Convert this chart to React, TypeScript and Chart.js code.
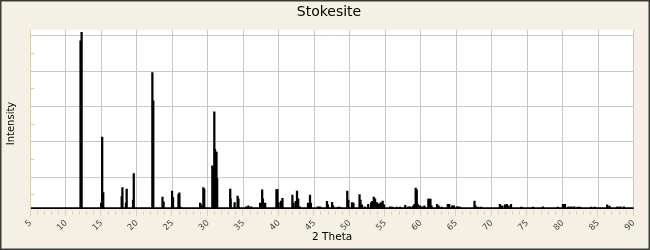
import React, { useEffect, useRef } from "react";
import { Chart, registerables } from "chart.js";

Chart.register(...registerables);

const TITLE = "Stokesite";
const X_TITLE = "2 Theta";
const Y_TITLE = "Intensity";

const X_MIN = 5;
const X_MAX = 90;
const X_STEP = 5;
const Y_MIN = 1.7;
const Y_MAX = 103.1;
const Y_GRID_STEP = 20;
const BASELINE = 2.1;

const peakTheta = [
  12.05, 12.2,
  14.95, 15.1, 15.25,
  17.85, 17.95, 18.45, 18.55, 19.45, 19.55,
  22.17, 22.3, 23.6, 23.75, 24.95, 25.08, 25.85, 25.98, 26.15,
  28.9, 29.0, 29.35, 29.48,
  30.62, 30.75, 30.9, 31.0, 31.13, 31.2, 31.3,
  33.14, 33.2, 33.76, 34.18, 34.3,
  35.4, 35.7, 36.1,
  37.35, 37.64, 37.75, 38.06,
  39.65, 39.8, 39.95, 40.3, 40.5,
  41.9, 42.05, 42.37, 42.55, 42.72, 42.95,
  44.1, 44.38, 44.5, 45.5, 45.8,
  46.77, 46.9, 47.5, 47.65, 48.3, 48.6,
  49.63, 49.78, 50.3, 50.5,
  51.36, 51.5, 51.7, 52.1,
  52.58, 53.0, 53.15, 53.37, 53.55, 53.8, 54.07, 54.35, 54.62, 54.8,
  55.7, 56.0, 56.6, 57.07, 57.8, 58.25, 58.5,
  58.9, 59.09, 59.27, 59.42, 59.56, 59.9, 60.2, 60.5,
  61.05, 61.2, 61.35, 61.5, 62.28, 62.5, 62.93,
  63.8, 64.0, 64.4, 64.65, 65.1, 65.25, 65.5,
  67.56, 67.7, 68.1, 68.5,
  71.13, 71.45, 71.85, 72.1, 72.35, 72.7,
  74.16, 75.8, 77.2, 79.3,
  80.02, 80.3, 80.8, 81.2, 81.6, 82.1, 82.4,
  84.0, 84.5, 86.25, 86.58, 87.7, 88.1, 88.6,
];

const peakIntensity = [
  97, 101.8,
  5, 42.5, 11,
  8.7, 13.8, 5, 13.0, 6.8, 21.7,
  79, 63, 8.5, 5.8, 11.9, 8.1, 10, 10.8, 2.8,
  5, 4, 13.8, 13,
  26.2, 24, 56.7, 35.5, 34, 34, 19,
  13, 7.5, 5.3, 9, 7.4,
  3, 3.5, 3,
  5, 12.5, 7.4, 5,
  12.7, 12.8, 5.3, 6.2, 7.7,
  9.6, 5, 6, 11.9, 7.4, 3,
  5, 9.6, 5, 3, 3,
  6, 4, 5.5, 3.5, 2.8, 2.8,
  11.9, 6.8, 5.3, 5,
  9.8, 6.8, 4, 3,
  4.3, 5.3, 6, 8.5, 7.4, 5.3, 4.6, 5.3, 6.2, 4,
  3, 2.8, 2.8, 2.8, 3.8, 3.0, 3,
  3.4, 4.3, 13.6, 12.5, 4.3, 3.5, 3, 3.5,
  7.3, 7.3, 7.3, 3.5, 4.3, 3.5, 2.8,
  4.3, 4.3, 3.5, 3.5, 3, 3, 2.8,
  6.2, 3.5, 2.8, 2.8,
  4.3, 3.5, 4, 4.3, 3.5, 4.3,
  2.8, 2.8, 3, 2.8,
  4.3, 4.3, 3, 3, 3, 2.8, 2.8,
  2.8, 2.8, 4, 3.3, 3, 3, 3,
];

const BG = "#F4F1E4";
const AXIS = "#DCD196";
const GRID = "#C8C8C8";
const FONT = "'DejaVu Sans', Verdana, sans-serif";

const framePlugin = {
  id: "frame",
  beforeDraw(chart: any) {
    const { ctx, width, height, chartArea } = chart;
    ctx.save();
    ctx.fillStyle = BG;
    ctx.fillRect(0, 0, width, height);
    ctx.fillStyle = "#FFFFFF";
    ctx.fillRect(chartArea.left, chartArea.top, chartArea.right - chartArea.left, chartArea.bottom - chartArea.top);
    ctx.restore();
  },
  beforeDatasetsDraw(chart: any) {
    const { ctx, chartArea } = chart;
    const ys = chart.scales.y;
    ctx.save();
    ctx.strokeStyle = GRID;
    ctx.lineWidth = 1;
    for (let v = Y_GRID_STEP; v < Y_MAX; v += Y_GRID_STEP) {
      const py = Math.round(ys.getPixelForValue(v)) + 0.5;
      ctx.beginPath();
      ctx.moveTo(chartArea.left, py);
      ctx.lineTo(chartArea.right, py);
      ctx.stroke();
    }
    ctx.restore();
  },
  afterDatasetsDraw(chart: any) {
    const { ctx, chartArea } = chart;
    const xs = chart.scales.x;
    const ys = chart.scales.y;
    ctx.save();
    ctx.strokeStyle = AXIS;
    ctx.lineWidth = 1;
    const lx = Math.round(chartArea.left) - 0.5;
    ctx.beginPath();
    ctx.moveTo(lx, chartArea.top);
    ctx.lineTo(lx, chartArea.bottom + 7);
    ctx.stroke();
    for (let v = Y_GRID_STEP / 2; v < Y_MAX; v += Y_GRID_STEP) {
      const py = Math.round(ys.getPixelForValue(v)) + 0.5;
      ctx.beginPath();
      ctx.moveTo(lx, py);
      ctx.lineTo(lx + 4, py);
      ctx.stroke();
    }
    for (let v = X_MIN; v <= X_MAX; v += 1) {
      const px = Math.round(xs.getPixelForValue(v)) - 0.5;
      const major = v % X_STEP === 0;
      ctx.beginPath();
      ctx.moveTo(px, chartArea.bottom + (major ? 0 : 2.5));
      ctx.lineTo(px, chartArea.bottom + (major ? 7 : 5.5));
      ctx.stroke();
    }
    ctx.restore();
  },
  afterDraw(chart: any) {
    const { ctx, width, height, chartArea } = chart;
    ctx.save();
    ctx.fillStyle = "#000";
    ctx.textAlign = "center";
    ctx.textBaseline = "middle";
    ctx.font = `14px ${FONT}`;
    ctx.fillText(TITLE, 329, 12);
    ctx.font = `10.5px ${FONT}`;
    ctx.fillText(X_TITLE, (chartArea.left + chartArea.right) / 2, 237);
    ctx.translate(11, 123.5);
    ctx.rotate(-Math.PI / 2);
    ctx.font = `10px ${FONT}`;
    ctx.fillText(Y_TITLE, 0, 0);
    ctx.restore();
    ctx.save();
    ctx.strokeStyle = "#3A3A3A";
    ctx.lineWidth = 2;
    ctx.strokeRect(0.5, 0.5, width - 1, height - 1);
    ctx.restore();
  },
};

export default function App() {
  const ref = useRef<HTMLCanvasElement | null>(null);

  useEffect(() => {
    document.body.style.margin = "0";
    document.body.style.overflow = "hidden";
    const canvas = ref.current;
    if (!canvas) return;
    const bars = peakTheta.map((t, i) => ({ x: t, y: [BASELINE, peakIntensity[i]] }));
    const chart = new Chart(canvas, {
      type: "bar",
      data: {
        datasets: [
          {
            type: "bar",
            data: bars as any,
            backgroundColor: "#000000",
            borderWidth: 0,
            barThickness: 1.6,
            order: 2,
          },
          {
            type: "line",
            data: [
              { x: X_MIN, y: BASELINE },
              { x: X_MAX, y: BASELINE },
            ],
            borderColor: "#000000",
            borderWidth: 2,
            pointRadius: 0,
            order: 1,
          } as any,
        ],
      },
      options: {
        responsive: false,
        animation: false,
        devicePixelRatio: 1,
        layout: { padding: { left: 0, top: 30, right: 14.5, bottom: 0 } },
        plugins: {
          legend: { display: false },
          title: { display: false },
          tooltip: { enabled: false },
        },
        scales: {
          x: {
            type: "linear",
            min: X_MIN,
            max: X_MAX,
            offset: false,
            grid: { color: GRID, lineWidth: 1, drawTicks: false, offset: false },
            border: { display: false },
            ticks: {
              stepSize: X_STEP,
              autoSkip: false,
              minRotation: 45,
              maxRotation: 45,
              padding: 9,
              color: "#444",
              font: { family: FONT, size: 8.5 },
            },
            afterFit: (s: any) => {
              s.height = 41;
            },
          },
          y: {
            type: "linear",
            min: Y_MIN,
            max: Y_MAX,
            grid: { display: false },
            border: { display: false },
            ticks: { display: false },
            afterFit: (s: any) => {
              s.width = 30.5;
            },
          },
        },
      },
      plugins: [framePlugin],
    });
    return () => chart.destroy();
  }, []);

  return (
    <div style={{ width: 650, height: 250 }}>
      <canvas ref={ref} width={650} height={250} style={{ display: "block", width: 650, height: 250 }} />
    </div>
  );
}
